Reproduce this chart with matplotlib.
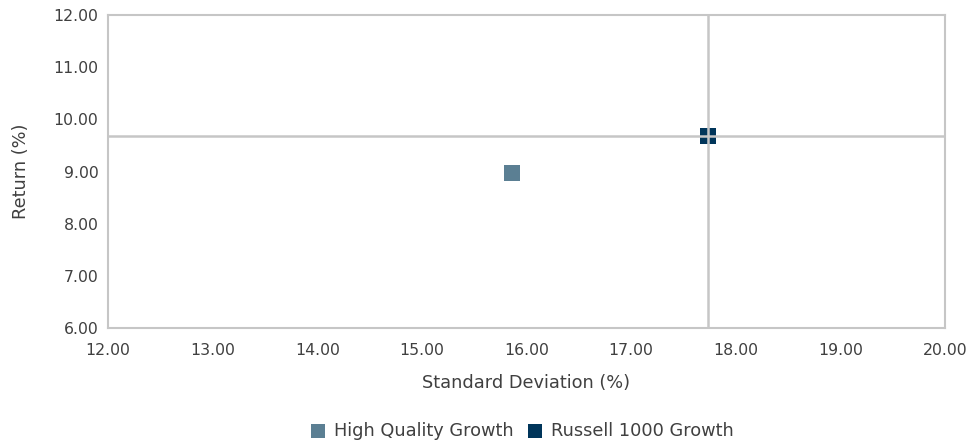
import matplotlib.pyplot as plt

# data
names = ["High Quality Growth", "Russell 1000 Growth"]
std_dev = [15.86, 17.73]
returns = [8.97, 9.68]
colors = ["#5b7f93", "#00355a"]

xticks = [12, 13, 14, 15, 16, 17, 18, 19, 20]
yticks = [6, 7, 8, 9, 10, 11, 12]

plt.rcParams['font.family'] = ['DejaVu Sans']

fig = plt.figure(figsize=(9.72, 4.43), dpi=100)
ax = fig.add_axes([108 / 972, 1 - 328 / 443, (945 - 108) / 972, (328 - 15) / 443])

for n, x, y, c in zip(names, std_dev, returns, colors):
    ax.scatter(x, y, marker='s', s=135, color=c, label=n, zorder=2, linewidths=0)

# crosshair on the benchmark
ax.axvline(std_dev[1], color="#c6c6c6", lw=1.8, zorder=3)
ax.axhline(returns[1], color="#c6c6c6", lw=1.8, zorder=3)

ax.set_xlim(12, 20)
ax.set_ylim(6, 12)
ax.set_xticks(xticks)
ax.set_yticks(yticks)
ax.set_xticklabels(["%.2f" % v for v in xticks])
ax.set_yticklabels(["%.2f" % v for v in yticks])
ax.tick_params(length=0, labelsize=11.3, colors="#404040")
ax.tick_params(axis='x', pad=11)
ax.tick_params(axis='y', pad=7)

for s in ax.spines.values():
    s.set_color("#c6c6c6")
    s.set_linewidth(1.5)

ax.set_xlabel("Standard Deviation (%)", fontsize=12.8, color="#404040", labelpad=11)
ax.set_ylabel("Return (%)", fontsize=12.8, color="#404040", labelpad=17)

fig.legend(loc='center', bbox_to_anchor=(522 / 972, 1 - 431 / 443), ncol=2, frameon=False,
           fontsize=12.8, handletextpad=0.5, handlelength=0.8, columnspacing=0.8,
           markerscale=0.85, labelcolor="#404040")

fig.savefig("out.png", dpi=100)
